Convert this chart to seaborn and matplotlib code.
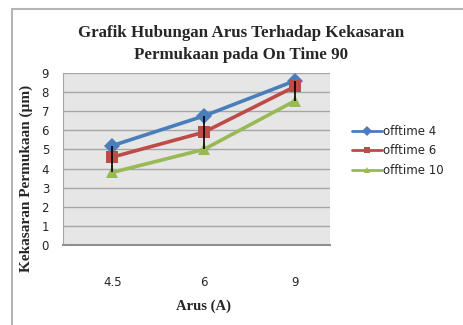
import matplotlib
matplotlib.use('Agg')
import matplotlib.pyplot as plt
import pandas as pd
import seaborn as sns
from matplotlib.lines import Line2D

arus = ['4.5', '6', '9']
offtime_4 = [5.2, 6.75, 8.6]
offtime_6 = [4.6, 5.9, 8.3]
offtime_10 = [3.8, 5.0, 7.55]
series = ['offtime 4', 'offtime 6', 'offtime 10']
colors = ['#4a7ebb', '#be4b48', '#98b954']
markers = ['D', 's', '^']

df = pd.DataFrame({
    'arus': arus * 3,
    'kekasaran': offtime_4 + offtime_6 + offtime_10,
    'seri': [s for s in series for _ in arus],
})

sns.set_style('white')
plt.rcParams['font.family'] = ['DejaVu Sans']
serif = ['Liberation Serif', 'DejaVu Serif']

fig = plt.figure(figsize=(4.63, 3.25), dpi=100)
ax = fig.add_axes([63 / 463, 1 - 245 / 325, 267 / 463, 172 / 325])
ax.set_facecolor('#e6e6e6')

sns.lineplot(data=df, x='arus', y='kekasaran', hue='seri', style='seri',
             markers=markers, dashes=False, palette=colors, linewidth=2.6,
             markersize=8.5, markeredgewidth=0, sort=False, ax=ax, zorder=3)

# garis high-low (hitam) dari nilai tertinggi ke terendah
highs = [max(v) for v in zip(offtime_4, offtime_6, offtime_10)]
lows = [min(v) for v in zip(offtime_4, offtime_6, offtime_10)]
ax.vlines(range(len(arus)), lows, highs, color='black', lw=1.2, zorder=5)

ax.set_xlim(-0.54, 2.38)
ax.set_ylim(0, 9)
ax.set_yticks(range(10))
ax.grid(axis='y', color='#a6a6a6', lw=1.0)
ax.grid(axis='x', visible=False)
ax.set_axisbelow(True)
for s in ['top', 'right']:
    ax.spines[s].set_visible(False)
ax.spines['left'].set_color('#a6a6a6')
ax.spines['bottom'].set_color('#909090')
ax.spines['bottom'].set_linewidth(1.5)
ax.tick_params(axis='y', length=4, color='#a6a6a6', labelsize=8.5, pad=6)
ax.tick_params(axis='x', length=0, labelsize=8.5, pad=22)
ax.set_xlabel('')
ax.set_ylabel('')

ax.get_legend().remove()
handles = [Line2D([], [], color=c, marker=m, lw=2.0, markersize=5, markeredgewidth=0)
           for c, m in zip(colors, markers)]
fig.legend(handles, series, loc='upper left', bbox_to_anchor=(347 / 463, 1 - 120 / 325),
           frameon=False, fontsize=8.5, handlelength=2.6, handletextpad=0.05,
           labelspacing=0.55, borderaxespad=0)

fig.text(241 / 463, 1 - 33 / 325, 'Grafik Hubungan Arus Terhadap Kekasaran',
         ha='center', va='center', fontsize=12.2, fontweight='bold', family=serif)
fig.text(241 / 463, 1 - 55 / 325, 'Permukaan pada On Time 90',
         ha='center', va='center', fontsize=12.2, fontweight='bold', family=serif)
fig.text(26 / 463, 1 - 178 / 325, 'Kekasaran Permukaan (µm)', rotation=90,
         ha='center', va='center', fontsize=11, fontweight='bold', family=serif)
fig.text(203 / 463, 1 - 306 / 325, 'Arus (A)', ha='center', va='center',
         fontsize=10.5, fontweight='bold', family=serif)

# bingkai chart
fig.add_artist(Line2D([12 / 463, 12 / 463], [0, 1 - 9 / 325],
                      transform=fig.transFigure, color='#b5b5b5', lw=1.5))
fig.add_artist(Line2D([12 / 463, 1], [1 - 9 / 325, 1 - 9 / 325],
                      transform=fig.transFigure, color='#b5b5b5', lw=1.5))

fig.savefig('out.png', dpi=100)
